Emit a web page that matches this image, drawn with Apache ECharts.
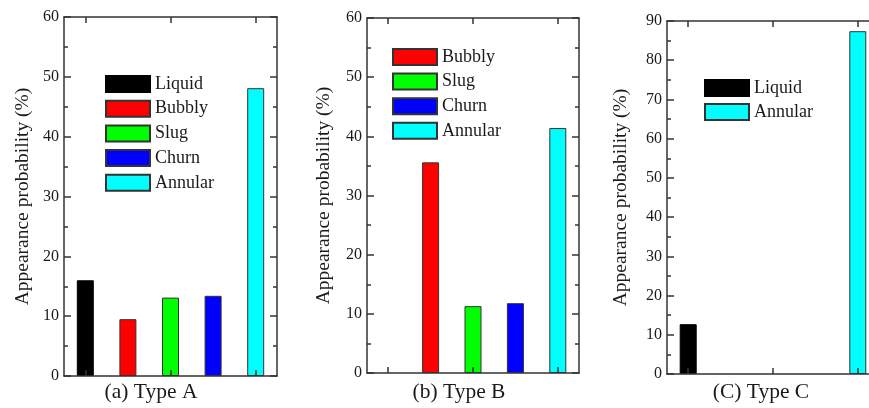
<!DOCTYPE html>
<html><head><meta charset="utf-8">
<script src="https://cdn.jsdelivr.net/npm/echarts@6/dist/echarts.min.js"></script>
<style>html,body{margin:0;padding:0;background:#fff}#c{width:869px;height:408px}</style>
</head><body><div id="c"></div>
<script>
const categories = ['Liquid', 'Bubbly', 'Slug', 'Churn', 'Annular'];
const colors = ['#000000', '#ff0000', '#00ff00', '#0000ff', '#00ffff'];
const typeA = [16.0, 9.5, 13.1, 13.4, 48.1];
const typeB = [null, 35.6, 11.3, 11.8, 41.4];
const typeC = [12.7, null, null, null, 87.4];
const panelTitles = ['(a) Type A', '(b) Type B', '(C) Type C'];
const yMaxes = [60, 60, 90];
const yInterval = 10;
const yAxisName = 'Appearance probability (%)';

const FONT = '"Liberation Serif", "Times New Roman", Times, serif';
const AX = '#333';
const TXT = '#1a1a1a';
const panels = [typeA, typeB, typeC];
const grids = [
  {left: 64, top: 17, width: 213, height: 359, outerBoundsMode: 'none', containLabel: false},
  {left: 367, top: 18, width: 212, height: 355, outerBoundsMode: 'none', containLabel: false},
  {left: 667, top: 21, width: 212, height: 353, outerBoundsMode: 'none', containLabel: false}
];
const nameGaps = [31, 33, 36];
const legendPos = [
  {left: 105, top: 75, itemGap: 6.7},
  {left: 392, top: 48, itemGap: 6.6},
  {left: 704, top: 79, itemGap: 6}
];
const titlePos = [[151, 392], [459, 392], [761, 392]];

const xAxes = [], yAxes = [], series = [], legends = [], graphics = [];
panels.forEach((vals, g) => {
  ['bottom', 'top'].forEach(pos => {
    xAxes.push({
      type: 'category', gridIndex: g, position: pos, data: categories,
      z: 5,
      axisLine: {show: true, onZero: false, lineStyle: {color: AX, width: 1.5}},
      axisTick: {show: true, inside: true, alignWithLabel: true, length: 6, lineStyle: {color: AX, width: 1.5}},
      axisLabel: {show: false},
      splitLine: {show: false}
    });
  });
  ['left', 'right'].forEach((pos, k) => {
    yAxes.push({
      type: 'value', gridIndex: g, position: pos, min: 0, max: yMaxes[g], interval: yInterval,
      z: 5,
      name: k === 0 ? yAxisName : '',
      nameLocation: 'middle', nameRotate: 90, nameGap: nameGaps[g],
      nameTextStyle: {fontFamily: FONT, fontSize: 19.5, color: TXT},
      axisLine: {show: true, onZero: false, lineStyle: {color: AX, width: 1.5}},
      axisTick: {show: true, inside: true, length: 7, lineStyle: {color: AX, width: 1.5}},
      minorTick: {show: true, splitNumber: 2, length: 4, lineStyle: {color: AX, width: 1.5}},
      axisLabel: {show: k === 0, fontFamily: FONT, fontSize: 16, color: TXT, margin: 5},
      splitLine: {show: false},
      minorSplitLine: {show: false}
    });
  });
  const names = [];
  vals.forEach((v, i) => {
    if (v == null) return;
    names.push(categories[i]);
    series.push({
      name: categories[i], type: 'bar', xAxisIndex: g * 2, yAxisIndex: g * 2,
      barWidth: 17, barGap: '-100%',
      itemStyle: {color: colors[i], borderColor: i === 0 ? '#000' : '#333', borderWidth: 1},
      data: vals.map((x, j) => (j === i ? x : '-'))
    });
  });
  legends.push({
    data: names, orient: 'vertical', left: legendPos[g].left, top: legendPos[g].top,
    padding: 0, itemGap: legendPos[g].itemGap, itemWidth: 44, itemHeight: 16, icon: 'rect',
    selectedMode: false,
    textStyle: {fontFamily: FONT, fontSize: 18, color: TXT, lineHeight: 16}
  });
  graphics.push({
    type: 'text', x: titlePos[g][0], y: titlePos[g][1],
    style: {text: panelTitles[g], font: '21.5px ' + FONT, fill: TXT, textAlign: 'center', textVerticalAlign: 'middle'}
  });
});

const chart = echarts.init(document.getElementById('c'), null, {renderer: 'canvas'});
chart.setOption({
  animation: false,
  backgroundColor: '#fff',
  grid: grids,
  xAxis: xAxes,
  yAxis: yAxes,
  legend: legends,
  series: series,
  graphic: graphics
});
</script>
</body></html>
